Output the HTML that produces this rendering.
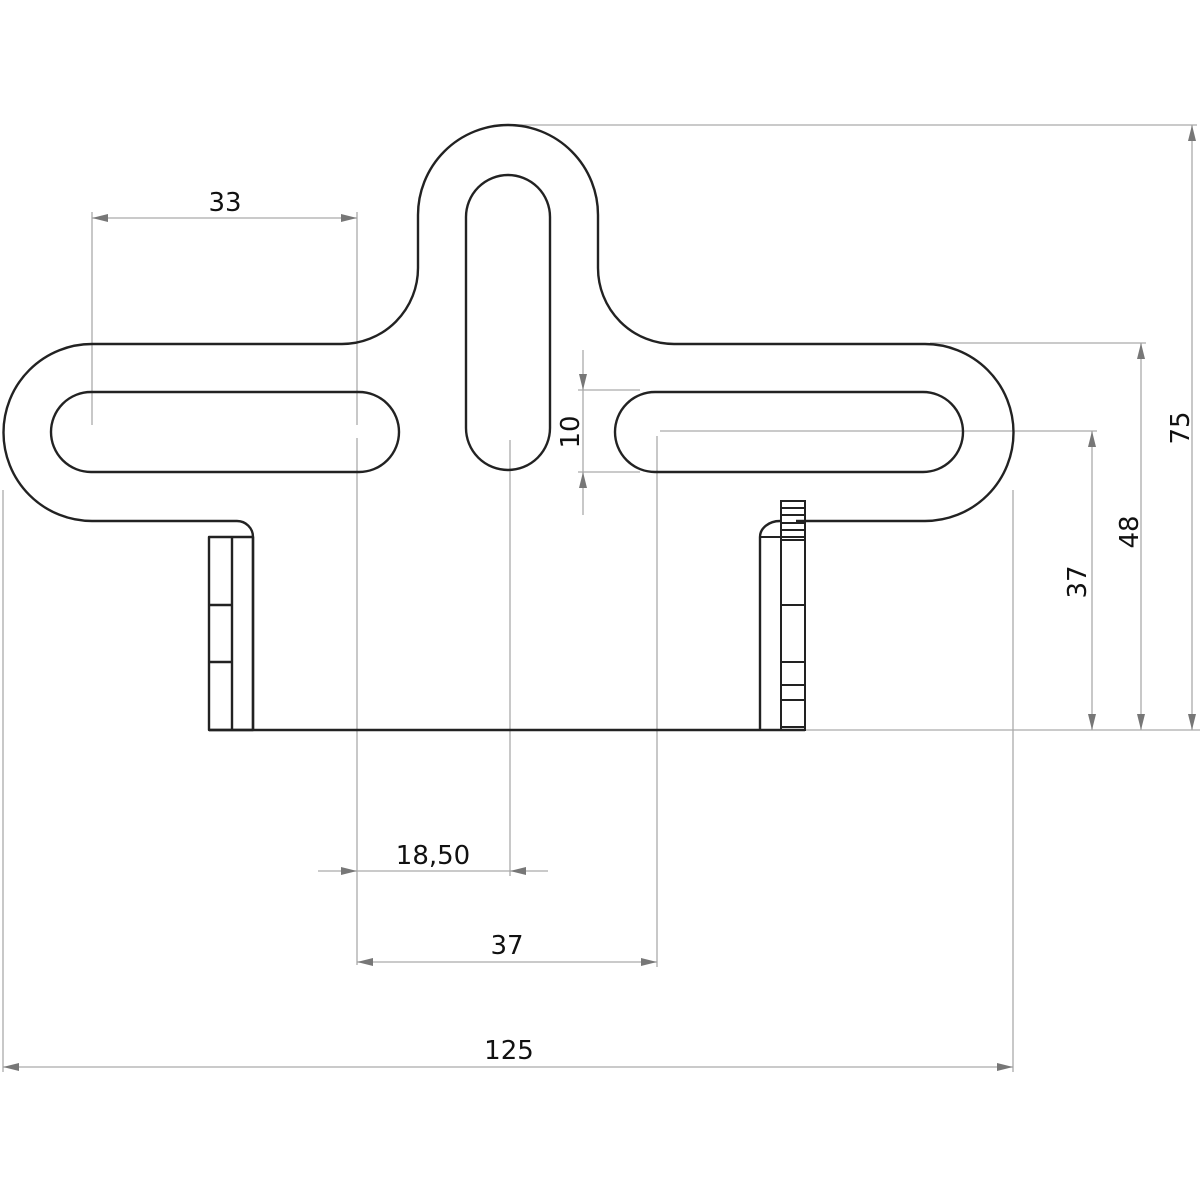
<!DOCTYPE html>
<html><head><style>html,body{margin:0;padding:0;background:#fff}svg{display:block}</style></head>
<body>
<svg width="1200" height="1200" viewBox="0 0 1200 1200" xmlns="http://www.w3.org/2000/svg">
<defs>
<marker id="a" viewBox="0 0 10 10" refX="10" refY="5" markerWidth="16" markerHeight="16" markerUnits="userSpaceOnUse" orient="auto-start-reverse"><path d="M0,2.5 L10,5 L0,7.5 z" fill="#777"/></marker>
</defs>
<g stroke="#aaa" stroke-width="1.3" fill="none">
<line x1="510" y1="125" x2="1197" y2="125"/>
<line x1="930" y1="343" x2="1146" y2="343"/>
<line x1="660" y1="431" x2="1097" y2="431"/>
<line x1="805" y1="730" x2="1200" y2="730"/>
<line x1="92" y1="212" x2="92" y2="425"/>
<line x1="357" y1="212" x2="357" y2="425"/>
<line x1="357" y1="438" x2="357" y2="965"/>
<line x1="510" y1="440" x2="510" y2="876"/>
<line x1="657" y1="436" x2="657" y2="967"/>
<line x1="3" y1="490" x2="3" y2="1072"/>
<line x1="1013" y1="490" x2="1013" y2="1072"/>
<line x1="578" y1="390" x2="640" y2="390"/>
<line x1="578" y1="472" x2="640" y2="472"/>
</g>
<g stroke="#aaa" stroke-width="1.3" fill="none">
<line x1="92" y1="218" x2="357" y2="218" marker-start="url(#a)" marker-end="url(#a)"/>
<line x1="357" y1="962" x2="657" y2="962" marker-start="url(#a)" marker-end="url(#a)"/>
<line x1="3" y1="1067" x2="1013" y2="1067" marker-start="url(#a)" marker-end="url(#a)"/>
<line x1="1192" y1="125" x2="1192" y2="730" marker-start="url(#a)" marker-end="url(#a)"/>
<line x1="1141" y1="343" x2="1141" y2="730" marker-start="url(#a)" marker-end="url(#a)"/>
<line x1="1092" y1="431" x2="1092" y2="730" marker-start="url(#a)" marker-end="url(#a)"/>
<line x1="318" y1="871" x2="357" y2="871" marker-end="url(#a)"/>
<line x1="548" y1="871" x2="510" y2="871" marker-end="url(#a)"/>
<line x1="357" y1="871" x2="510" y2="871"/>
<line x1="583" y1="350" x2="583" y2="390" marker-end="url(#a)"/>
<line x1="583" y1="515" x2="583" y2="472" marker-end="url(#a)"/>
<line x1="583" y1="390" x2="583" y2="472"/>
</g>
<g stroke="#222" stroke-width="2.4" fill="none" stroke-linejoin="round">
<path d="M237,521 L92,521 A88.5,88.5 0 0 1 92,344 L342,344 A76,76 0 0 0 418,268 L418,215 A90,90 0 0 1 598,215 L598,268 A76,76 0 0 0 674,344 L925,344 A88.5,88.5 0 0 1 925,521 L796,521"/>
<path d="M780,521 A20,16 0 0 0 760,537 L760,730"/>
<path d="M253,730 L253,537 A16,16 0 0 0 237,521"/>
<line x1="209" y1="730" x2="805" y2="730"/>
<path d="M91,392 L359,392 A40,40 0 0 1 359,472 L91,472 A40,40 0 0 1 91,392 Z"/>
<path d="M655,392 L923,392 A40,40 0 0 1 923,472 L655,472 A40,40 0 0 1 655,392 Z"/>
<path d="M466,217 A42,42 0 0 1 550,217 L550,428 A42,42 0 0 1 466,428 Z"/>
<rect x="209" y="537" width="44" height="193"/>
<line x1="232" y1="537" x2="232" y2="730"/>
<line x1="209" y1="605" x2="232" y2="605"/>
<line x1="209" y1="662" x2="232" y2="662"/>
</g>
<g stroke="#222" stroke-width="2" fill="none">
<rect x="781" y="501" width="24" height="229"/>
<line x1="781" y1="508" x2="805" y2="508"/>
<line x1="781" y1="515" x2="805" y2="515"/>
<line x1="781" y1="523" x2="805" y2="523"/>
<line x1="781" y1="530" x2="805" y2="530"/>
<line x1="781" y1="537" x2="805" y2="537"/>
<line x1="781" y1="540" x2="805" y2="540"/>
<line x1="781" y1="605" x2="805" y2="605"/>
<line x1="781" y1="662" x2="805" y2="662"/>
<line x1="781" y1="685" x2="805" y2="685"/>
<line x1="781" y1="700" x2="805" y2="700"/>
<line x1="781" y1="727" x2="805" y2="727"/>
<line x1="760" y1="537" x2="781" y2="537"/>
</g>
<g font-family="'DejaVu Sans','Liberation Sans',sans-serif" font-size="26" fill="#111" text-anchor="middle">
<text x="225" y="211">33</text>
<text x="433" y="864">18,50</text>
<text x="507" y="954">37</text>
<text x="509" y="1059">125</text>
<text transform="translate(1189,428) rotate(-90)">75</text>
<text transform="translate(1138,532) rotate(-90)">48</text>
<text transform="translate(1086,582) rotate(-90)">37</text>
<text transform="translate(579,432) rotate(-90)">10</text>
</g>
</svg>
</body></html>
